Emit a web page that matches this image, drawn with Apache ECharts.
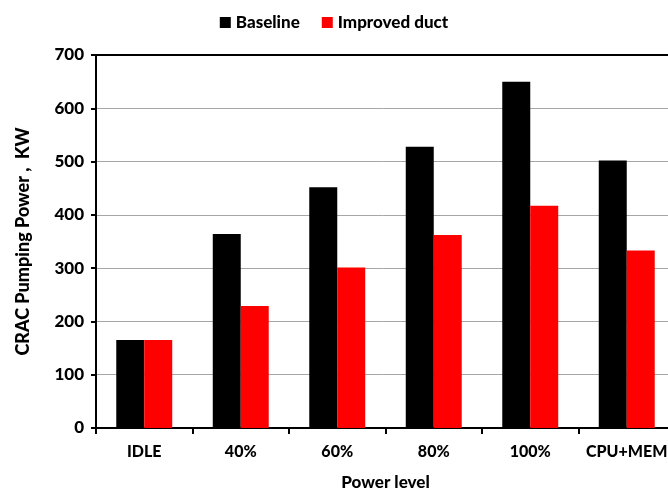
<!DOCTYPE html>
<html>
<head>
<meta charset="utf-8">
<script src="https://cdn.jsdelivr.net/npm/echarts@6/dist/echarts.min.js"></script>
<style>
  html, body { margin: 0; padding: 0; background: #fff; }
  #chart { width: 668px; height: 493px; }
</style>
</head>
<body>
<div id="chart"></div>
<script>
// Power levels on the x axis
const categories = ['IDLE', '40%', '60%', '80%', '100%', 'CPU+MEM'];
// CRAC pumping power (KW) per configuration
const baseline = [165, 364, 452, 528, 650, 502];
const improvedDuct = [165, 229, 301, 362, 417, 333];
// Value axis ticks
const yTicks = [0, 100, 200, 300, 400, 500, 600, 700];

const FONT = 'Lato';
const chart = echarts.init(document.getElementById('chart'));

chart.setOption({
  animation: false,
  textStyle: { fontFamily: FONT },
  legend: {
    top: 9,
    left: 'center',
    itemWidth: 11,
    itemHeight: 11,
    itemGap: 22,
    icon: 'rect',
    textStyle: { fontFamily: FONT, fontWeight: 900, fontSize: 17, color: '#000' },
    data: ['Baseline', 'Improved duct']
  },
  grid: { left: 96, top: 55, width: 579, height: 373, containLabel: false, outerBoundsMode: 'none' },
  xAxis: [{
    type: 'category',
    data: categories,
    name: 'Power level',
    nameLocation: 'middle',
    nameGap: 46,
    nameTextStyle: { fontFamily: FONT, fontWeight: 900, fontSize: 17, color: '#000' },
    axisLine: { lineStyle: { color: '#000', width: 2 } },
    axisTick: { show: true, length: 6, lineStyle: { color: '#000', width: 2 } },
    axisLabel: { interval: 0, margin: 16, fontFamily: FONT, fontWeight: 900, fontSize: 16, color: '#000' }
  }, {
    // top border of the plot area
    type: 'category',
    position: 'top',
    data: categories,
    axisLine: { lineStyle: { color: '#000', width: 2 } },
    axisTick: { show: false },
    axisLabel: { show: false }
  }],
  yAxis: {
    type: 'value',
    min: yTicks[0],
    max: yTicks[yTicks.length - 1],
    interval: 100,
    name: 'CRAC Pumping Power ,  KW',
    nameLocation: 'middle',
    nameGap: 64,
    nameTextStyle: { fontFamily: FONT, fontWeight: 900, fontSize: 18, color: '#000' },
    axisLine: { show: true, lineStyle: { color: '#000', width: 2 } },
    axisTick: { show: true, length: 5, lineStyle: { color: '#000', width: 2 } },
    axisLabel: { margin: 12, fontFamily: FONT, fontWeight: 900, fontSize: 17, color: '#000' },
    splitLine: { show: true, lineStyle: { color: '#a6a6a6', width: 1 } }
  },
  series: [{
    name: 'Baseline',
    type: 'bar',
    data: baseline,
    barGap: '0%',
    barCategoryGap: '42%',
    itemStyle: { color: '#000000' }
  }, {
    name: 'Improved duct',
    type: 'bar',
    data: improvedDuct,
    barGap: '0%',
    barCategoryGap: '42%',
    itemStyle: { color: '#ff0000' }
  }]
});
</script>
</body>
</html>
